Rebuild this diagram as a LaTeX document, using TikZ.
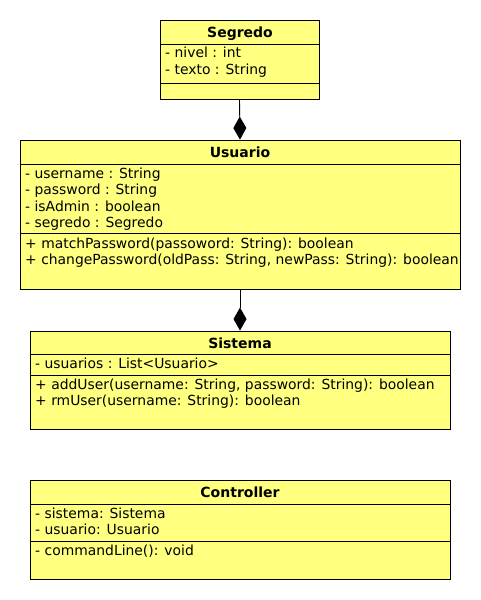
\documentclass[tikz,border=0pt]{standalone}
\usepackage{fontspec}
\setmainfont{DejaVu Sans}
\usetikzlibrary{arrows.meta}
\definecolor{classfill}{RGB}{255,255,128}
\tikzset{
  classbox/.style={draw=black, fill=classfill, line width=0.9pt, inner sep=0pt, rectangle},
  sep/.style={draw=black, line width=0.9pt},
  title/.style={anchor=base, inner sep=0pt, font=\fontsize{14}{16}\selectfont\bfseries},
  member/.style={anchor=base west, inner sep=0pt, font=\fontsize{13.9}{16}\selectfont},
  compose/.style={draw=black, line width=0.9pt, -{Diamond[length=23pt, width=13pt, fill=black]}}
}
\begin{document}
\begin{tikzpicture}[x=1pt, y=-1pt]
\useasboundingbox[fill=white] (0,0) rectangle (480,600);
% Segredo
\node[classbox, minimum width=159pt, minimum height=79pt] (seg) at (239.5,59.5) {};
\draw[sep] (160,44) -- (319,44);
\draw[sep] (160,83) -- (319,83);
\node[title] (segt) at (240,37) {Segredo};
\node[member] (sega1) at (165,57) {- nivel : int};
\node[member] (sega2) at (165,74) {- texto : String};
% Usuario
\node[classbox, minimum width=440pt, minimum height=149pt] (usu) at (240,214.5) {};
\draw[sep] (20,164) -- (460,164);
\draw[sep] (20,233) -- (460,233);
\node[title] (usut) at (240,157) {Usuario};
\node[member] (usua1) at (25,178) {- username : String};
\node[member] (usua2) at (25,194.5) {- password : String};
\node[member] (usua3) at (25,211) {- isAdmin : boolean};
\node[member] (usua4) at (25,227.5) {- segredo : Segredo};
\node[member] (usum1) at (25,248) {+ matchPassword(passoword: String): boolean};
\node[member] (usum2) at (25,264.5) {+ changePassword(oldPass: String, newPass: String): boolean};
% Sistema
\node[classbox, minimum width=420pt, minimum height=98pt] (sis) at (240,380) {};
\draw[sep] (30,354) -- (450,354);
\draw[sep] (30,375) -- (450,375);
\node[title] (sist) at (240,348) {Sistema};
\node[member] (sisa1) at (35,368) {- usuarios : List<Usuario>};
\node[member] (sism1) at (35,389) {+ addUser(username: String, password: String): boolean};
\node[member] (sism2) at (35,405.5) {+ rmUser(username: String): boolean};
% Controller
\node[classbox, minimum width=420pt, minimum height=99pt] (con) at (240,529.5) {};
\draw[sep] (30,504) -- (450,504);
\draw[sep] (30,541) -- (450,541);
\node[title] (cont) at (240,497) {Controller};
\node[member] (cona1) at (35,518) {- sistema: Sistema};
\node[member] (cona2) at (35,534.5) {- usuario: Usuario};
\node[member] (conm1) at (35,555) {- commandLine(): void};
% connectors
\draw[compose] (seg.south) -- (usu.north);
\draw[compose] (usu.south) -- (sis.north);
\end{tikzpicture}
\end{document}
